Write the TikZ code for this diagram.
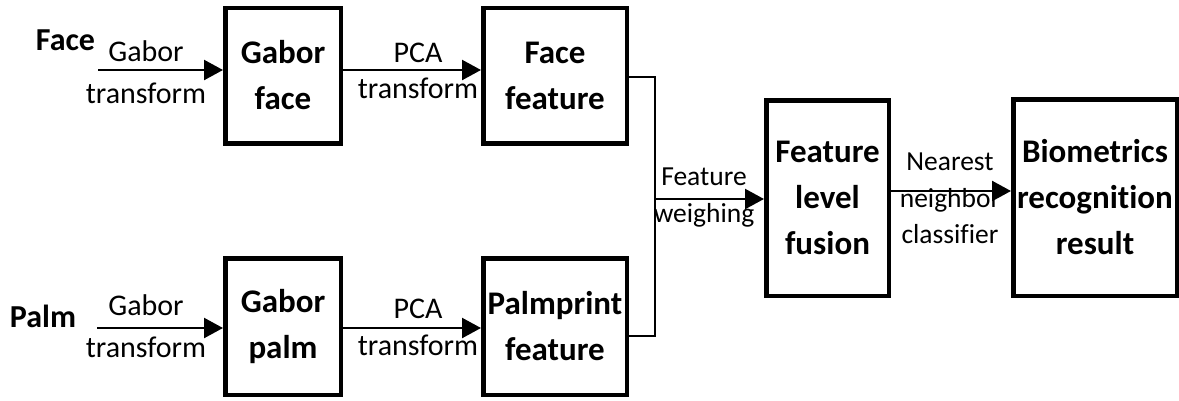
\documentclass[tikz,border=0pt]{standalone}
\usepackage{fontspec}
\setmainfont[Ligatures=CommonOff]{Carlito}
\usetikzlibrary{arrows.meta}

\tikzset{
  block/.style={draw, line width=4.5pt, rectangle, align=center, inner sep=0pt,
    font=\fontsize{33}{46}\selectfont\bfseries},
  srclabel/.style={anchor=base, inner sep=0pt, font=\fontsize{32}{38}\selectfont\bfseries},
  steplabel/.style={anchor=base, inner sep=0pt, font=\fontsize{30}{35}\selectfont},
  smalllabel/.style={anchor=base, inner sep=0pt, font=\fontsize{27.5}{33}\selectfont},
  flow/.style={line width=2.4pt, -{Triangle[length=19pt,width=20pt]}},
  wire/.style={line width=2.4pt},
}

\begin{document}
\begin{tikzpicture}[x=1pt,y=-1pt]
\useasboundingbox (0,0) rectangle (1179,400);

% processing blocks
\node[block, minimum width=115.5pt, minimum height=135.5pt] (gface) at (283,75.5) {Gabor\\face};
\node[block, minimum width=143.5pt, minimum height=135.5pt] (ffeat) at (555,75.5) {Face\\feature};
\node[block, minimum width=115.5pt, minimum height=136.5pt] (gpalm) at (283,326.5) {Gabor\\palm};
\node[block, minimum width=143.5pt, minimum height=136.5pt] (pfeat) at (555,326.5) {Palmprint\\feature};
\node[block, minimum width=122.5pt, minimum height=195.5pt] (fusion) at (827.5,198) {Feature\\level\\fusion};
\node[block, minimum width=163.5pt, minimum height=196.5pt] (bio) at (1095,197.5) {Biometrics\\recognition\\result};

% inputs
\node[srclabel] (face) at (65.5,50) {Face};
\node[srclabel] (palm) at (43,327) {Palm};

% step labels
\node[steplabel] (g1a) at (146,61) {Gabor};
\node[steplabel] (g1b) at (146,103) {transform};
\node[steplabel] (p1a) at (418,62) {PCA};
\node[steplabel] (p1b) at (418,98) {transform};
\node[steplabel] (g2a) at (146,315) {Gabor};
\node[steplabel] (g2b) at (146,357) {transform};
\node[steplabel] (p2a) at (418,318) {PCA};
\node[steplabel] (p2b) at (418,355) {transform};
\node[smalllabel] (wa) at (704,185) {Feature};
\node[smalllabel] (wb) at (704,222) {weighing};
\node[smalllabel] (na) at (950,170) {Nearest};
\node[smalllabel] (nb) at (950,207) {neighbor};
\node[smalllabel] (nc) at (950,243) {classifier};

% connector anchors
\coordinate (fin) at (98,70);
\coordinate (pin) at (97,328);
\coordinate (join) at (655,199);
\path ([yshift=-1.5pt]ffeat.east) coordinate (fout);
\path ([yshift=-9.5pt]pfeat.east) coordinate (pout);
\path ([yshift=7pt]fusion.east) coordinate (fuseout);

% face branch
\draw[flow] (fin) -- (fin -| gface.west);
\draw[flow] (gface.east |- fin) -- (fin -| ffeat.west);
% palm branch
\draw[flow] (pin) -- (pin -| gpalm.west);
\draw[flow] (gpalm.east |- pin) -- (pin -| pfeat.west);
% merge into fusion
\draw[wire] (fout) -| (join) |- (pout);
\draw[flow] (join) -- (join -| fusion.west);
% classification
\draw[flow] (fuseout) -- (fuseout -| bio.west);
\end{tikzpicture}
\end{document}
